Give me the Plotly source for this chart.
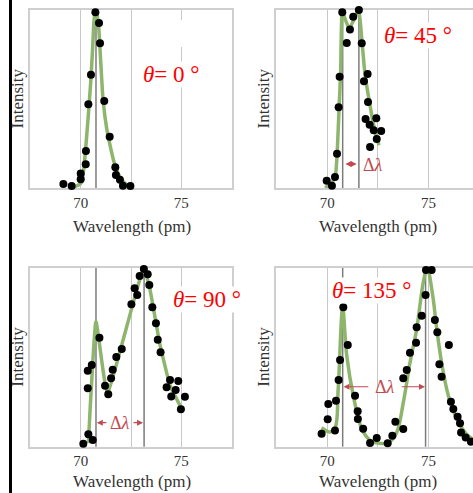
import plotly.graph_objects as go

# ---------------- data ----------------
wl_0 = [69.14, 69.55, 70.0, 70.0, 70.25, 70.26, 70.38, 70.51, 70.73, 70.91, 70.96,
        71.17, 71.44, 71.72, 71.75, 71.95, 72.1, 72.47]
int_0 = [0.022, 0.011, 0.049, 0.082, 0.133, 0.208, 0.47, 0.636, 0.987, 0.927, 0.813,
         0.489, 0.288, 0.116, 0.073, 0.047, 0.013, 0.011]
fit_wl_0 = [69.47, 70.0, 70.13, 70.26, 70.38, 70.5, 70.6, 70.68, 70.76, 70.87, 70.96,
            71.04, 71.12, 71.29, 71.46, 71.7, 71.95, 72.28, 72.53]
fit_int_0 = [0.002, 0.026, 0.09, 0.24, 0.41, 0.6, 0.8, 0.96, 0.995, 0.93, 0.78,
             0.62, 0.485, 0.335, 0.24, 0.13, 0.063, 0.017, 0.002]

wl_45 = [69.97, 70.23, 70.38, 70.48, 70.56, 70.61, 70.74, 70.96, 71.12, 71.28, 71.56,
         71.70, 71.81, 71.99, 72.01, 71.89, 72.09, 72.42, 72.29, 72.66, 72.44, 72.11]
int_45 = [0.041, 0.013, 0.062, 0.193, 0.453, 0.625, 0.987, 0.815, 0.89, 0.962, 1.0,
          0.813, 0.60, 0.64, 0.483, 0.388, 0.356, 0.392, 0.324, 0.32, 0.275, 0.23]
fit_wl_45 = [69.9, 70.38, 70.49, 70.59, 70.66, 70.74, 71.08, 71.56, 71.70, 71.86,
             72.1, 72.35, 72.55]
fit_int_45 = [0.0, 0.054, 0.2, 0.47, 0.65, 0.99, 0.895, 1.0, 0.84, 0.64,
              0.47, 0.32, 0.24]

wl_90 = [70.13, 70.38, 70.6, 70.35, 70.35, 70.55, 70.93, 71.21, 71.37, 71.51, 71.59,
         71.77, 72.04, 72.52, 72.68, 72.81, 72.93, 73.14, 73.33, 73.41, 73.56, 73.74,
         73.83, 73.97, 74.27, 74.44, 74.5, 74.72, 74.85, 74.98, 75.18]
int_90 = [0.017, 0.069, 0.037, 0.326, 0.425, 0.456, 0.609, 0.341, 0.293, 0.382, 0.43,
          0.501, 0.546, 0.796, 0.885, 0.848, 0.954, 0.993, 0.963, 0.903, 0.779, 0.689,
          0.598, 0.527, 0.332, 0.373, 0.281, 0.317, 0.367, 0.209, 0.279]
fit_wl_90 = [70.38, 70.76, 71.32, 73.14, 73.44, 73.94, 74.44, 75.02]
fit_int_90 = [0.02, 0.70, 0.30, 1.0, 0.88, 0.57, 0.343, 0.212]

wl_135 = [69.72, 70.02, 70.05, 70.38, 70.43, 70.56, 70.63, 70.79, 71.01, 71.37, 71.5,
          71.51, 71.77, 72.11, 72.44, 72.98, 73.21, 73.36, 73.75, 73.75, 73.92, 74.08,
          74.38, 74.41, 74.66, 74.85, 74.87, 75.15, 75.31, 75.43, 75.53, 75.64, 76.0,
          76.1, 76.22, 76.43, 76.55, 76.6, 76.83, 77.09]
int_135 = [0.073, 0.153, 0.239, 0.09, 0.257, 0.373, 0.484, 0.779, 0.568, 0.285, 0.198,
           0.155, 0.1, 0.021, 0.049, 0.019, 0.061, 0.14, 0.099, 0.382, 0.428, 0.525,
           0.581, 0.667, 0.732, 0.847, 0.987, 0.987, 0.708, 0.639, 0.46, 0.391, 0.568,
           0.251, 0.211, 0.168, 0.131, 0.08, 0.052, 0.028]
fit_wl_135 = [69.72, 70.13, 70.38, 70.54, 70.76, 70.96, 71.28, 71.7, 72.1, 72.5, 73.01,
              73.42, 73.75, 74.08, 74.41, 74.74, 74.93, 75.2, 75.4, 75.64, 75.97,
              76.38, 76.88, 77.19]
fit_int_135 = [0.106, 0.082, 0.103, 0.326, 0.773, 0.51, 0.287, 0.1, 0.037, 0.02, 0.022,
               0.078, 0.246, 0.469, 0.656, 0.92, 1.0, 0.846, 0.66, 0.47, 0.287,
               0.159, 0.069, 0.043]

angle_labels = ["0", "45", "90", "135"]
peak_lines = [[70.76], [70.76, 71.56], [70.76, 73.15], [70.76, 74.85]]
tick_vals = [70, 72.5, 75]
tick_text = ["70", "", "75"]

# ---------------- style ----------------
W, H = 473, 493
SERIF = "Liberation Serif, Times New Roman, serif"
GREEN = "#8db56c"
ARROW = "#c24b50"
BORDER = "#cfcfcf"
GRID = "#c8c8c8"
DARK = "#7c7c7c"
TXT = "#333333"

def px2fx(p):
    return p / W

def px2fy(p):
    return 1 - p / H

x_left = [px2fx(30), px2fx(232)]
x_right = [px2fx(276), 1.0]
y_top = [px2fy(188), px2fy(10)]
y_bot = [px2fy(446.7), px2fy(267.7)]

panels = [
    (wl_0, int_0, fit_wl_0, fit_int_0, x_left, y_top, [67.48, 77.52], True),
    (wl_45, int_45, fit_wl_45, fit_int_45, x_right, y_top, [67.47, 77.19], False),
    (wl_90, int_90, fit_wl_90, fit_int_90, x_left, y_bot, [67.48, 77.52], True),
    (wl_135, int_135, fit_wl_135, fit_int_135, x_right, y_bot, [67.47, 77.19], False),
]

fig = go.Figure()
layout = dict(
    width=W, height=H, margin=dict(l=0, r=0, t=0, b=0),
    paper_bgcolor="white", plot_bgcolor="white", showlegend=False,
)
shapes = []
annotations = []

for i, (wx, wy, fx, fy, xd, yd, xr, is_left) in enumerate(panels):
    n = "" if i == 0 else str(i + 1)
    xa, ya = "x" + n, "y" + n
    smooth = 1.0 if i in (0, 3) else 0.35
    fig.add_trace(go.Scatter(x=fx, y=fy, mode="lines", xaxis=xa, yaxis=ya,
                             line=dict(color=GREEN, width=3.5, shape="spline",
                                       smoothing=smooth),
                             hoverinfo="skip"))
    fig.add_trace(go.Scatter(x=wx, y=wy, mode="markers", xaxis=xa, yaxis=ya,
                             marker=dict(color="black", size=8), cliponaxis=False))
    top_row = i < 2
    layout["xaxis" + n] = dict(
        domain=xd, range=xr, anchor=ya, tickvals=tick_vals, ticktext=tick_text,
        showgrid=True, gridcolor=GRID, gridwidth=1, zeroline=False,
        showline=True, linecolor=BORDER, linewidth=1.5, mirror=True,
        ticks="", ticklen=0, layer="below traces",
        tickfont=dict(family=SERIF, size=15, color=TXT),
        ticklabelstandoff=0,
    )
    layout["yaxis" + n] = dict(
        domain=yd, range=[0, 1], anchor=xa, showticklabels=False, showgrid=False,
        zeroline=False, showline=True, linecolor=BORDER, linewidth=1.5,
        mirror=is_left, ticks="", layer="below traces",
    )
    for p in peak_lines[i]:
        shapes.append(dict(type="line", xref=xa, yref=ya + " domain", x0=p, x1=p,
                           y0=0, y1=1, line=dict(color=DARK, width=1.5), layer="below"))
    # axis titles
    cx = px2fx(132) if is_left else px2fx(378)
    ty = 226.7 if top_row else 481.5
    annotations.append(dict(text="Wavelength (pm)", xref="paper", yref="paper",
                            x=cx, y=px2fy(ty), xanchor="center", yanchor="middle",
                            showarrow=False,
                            font=dict(family=SERIF, size=17, color=TXT)))
    ix = 17.5 if is_left else 263.5
    annotations.append(dict(text="Intensity", xref="paper", yref="paper",
                            x=px2fx(ix), y=(yd[0] + yd[1]) / 2, textangle=-90,
                            xanchor="center", yanchor="middle", showarrow=False,
                            font=dict(family=SERIF, size=17, color=TXT)))

# angle labels
angle_pos = [(73.05, 0.635), (72.75, 0.854), (74.54, 0.82), (70.17, 0.875)]
for i, (lab, (ax_, ay_)) in enumerate(zip(angle_labels, angle_pos)):
    n = "" if i == 0 else str(i + 1)
    annotations.append(dict(text="<i>θ</i>= " + lab + " °", xref="x" + n, yref="y" + n,
                            x=ax_, y=ay_, xanchor="left", yanchor="middle",
                            showarrow=False, bgcolor="white", borderpad=0,
                            font=dict(family=SERIF, size=23, color="#ff0000")))

# delta-lambda markers
def dl_text(n, x, y):
    annotations.append(dict(text="Δ<i>λ</i>", xref="x" + n, yref="y" + n, x=x, y=y,
                            xanchor="center", yanchor="middle", showarrow=False,
                            font=dict(family=SERIF, size=18, color=ARROW)))

def dl_arrow(n, x_tip, x_tail, y, side="end"):
    annotations.append(dict(text="", xref="x" + n, yref="y" + n, axref="x" + n,
                            ayref="y" + n, x=x_tip, y=y, ax=x_tail, ay=y,
                            showarrow=True, arrowhead=2, arrowsize=1, arrowwidth=1.2,
                            arrowcolor=ARROW, arrowside=side, startarrowhead=2,
                            startarrowsize=1, standoff=0, startstandoff=0))

# 45
dl_arrow("2", 71.45, 70.82, 0.135, "end+start")
dl_text("2", 72.25, 0.128)
# 90
dl_text("3", 71.95, 0.134)
dl_arrow("3", 70.8, 71.35, 0.134)
dl_arrow("3", 73.1, 72.55, 0.134)
# 135
dl_text("4", 72.85, 0.335)
dl_arrow("4", 70.8, 72.1, 0.335)
dl_arrow("4", 74.82, 73.6, 0.335)

# left black rule and blank box in top-left panel
shapes.append(dict(type="line", xref="paper", yref="paper", x0=px2fx(10.5),
                   x1=px2fx(10.5), y0=0, y1=1, line=dict(color="black", width=3)))
shapes.append(dict(type="rect", xref="paper", yref="paper", x0=px2fx(163),
                   x1=px2fx(223), y0=px2fy(47), y1=px2fy(20),
                   fillcolor="white", line=dict(width=0), layer="above"))

layout["shapes"] = shapes
layout["annotations"] = annotations
fig.update_layout(**layout)
fig.write_html("out.html", config={"displayModeBar": False},
               post_script="document.body.style.margin='0';")
